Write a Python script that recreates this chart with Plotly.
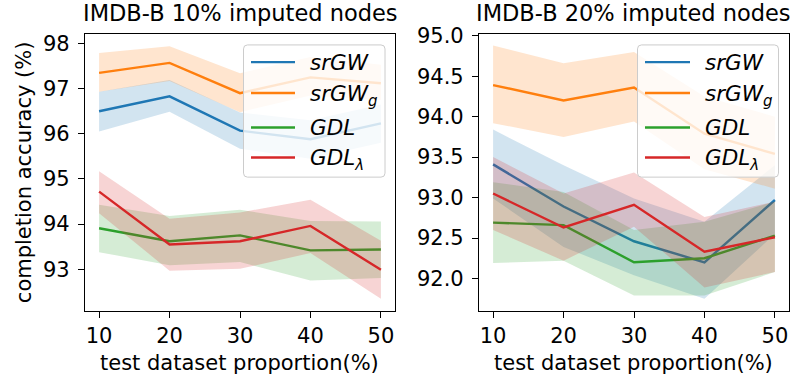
import plotly.graph_objects as go

# test dataset proportion (%)
proportions = [10, 20, 30, 40, 50]

# IMDB-B, 10% imputed nodes: mean and band limits
srgw_10 = [96.50, 96.83, 96.07, 95.88, 96.23]
srgw_10_lo = [96.05, 96.49, 95.67, 95.45, 95.80]
srgw_10_hi = [96.93, 97.19, 96.47, 96.30, 96.65]
srgwg_10 = [97.35, 97.57, 96.90, 97.25, 97.12]
srgwg_10_lo = [96.93, 97.17, 96.48, 96.85, 96.75]
srgwg_10_hi = [97.79, 97.94, 97.34, 97.70, 97.53]
gdl_10 = [93.91, 93.62, 93.75, 93.42, 93.44]
gdl_10_lo = [93.38, 93.09, 93.16, 92.75, 92.81]
gdl_10_hi = [94.43, 94.18, 94.32, 94.07, 94.06]
gdll_10 = [94.72, 93.55, 93.62, 93.96, 92.99]
gdll_10_lo = [94.24, 92.97, 93.01, 93.36, 92.35]
gdll_10_hi = [95.17, 94.12, 94.26, 94.54, 93.63]

# IMDB-B, 20% imputed nodes: mean and band limits
srgw_20 = [93.41, 92.89, 92.46, 92.20, 92.97]
srgw_20_lo = [92.99, 92.39, 92.04, 91.75, 92.55]
srgw_20_hi = [93.84, 93.40, 92.99, 92.70, 93.40]
srgwg_20 = [94.39, 94.20, 94.36, 93.79, 93.54]
srgwg_20_lo = [93.92, 93.75, 93.94, 93.35, 93.11]
srgwg_20_hi = [94.88, 94.66, 94.80, 94.25, 94.00]
gdl_20 = [92.69, 92.66, 92.20, 92.25, 92.53]
gdl_20_lo = [92.19, 92.22, 91.79, 91.79, 92.08]
gdl_20_hi = [93.19, 93.07, 92.60, 92.70, 92.95]
gdll_20 = [93.05, 92.63, 92.91, 92.33, 92.51]
gdll_20_lo = [92.60, 92.22, 92.64, 91.89, 92.08]
gdll_20_hi = [93.50, 93.05, 93.31, 92.76, 92.95]

names = ["<i>srGW</i>", "<i>srGW<sub>g</sub></i>", "<i>GDL</i>", "<i>GDL<sub>λ</sub></i>"]
colors = ["#1f77b4", "#ff7f0e", "#2ca02c", "#d62728"]
fills = ["rgba(31,119,180,0.2)", "rgba(255,127,14,0.2)",
         "rgba(44,160,44,0.2)", "rgba(214,39,40,0.2)"]

panels = [
    ("x", "y",
     [(srgw_10, srgw_10_lo, srgw_10_hi), (srgwg_10, srgwg_10_lo, srgwg_10_hi),
      (gdl_10, gdl_10_lo, gdl_10_hi), (gdll_10, gdll_10_lo, gdll_10_hi)]),
    ("x2", "y2",
     [(srgw_20, srgw_20_lo, srgw_20_hi), (srgwg_20, srgwg_20_lo, srgwg_20_hi),
      (gdl_20, gdl_20_lo, gdl_20_hi), (gdll_20, gdll_20_lo, gdll_20_hi)]),
]

fig = go.Figure()
for xa, ya, series in panels:
    for i, (mean, lo, hi) in enumerate(series):
        fig.add_trace(go.Scatter(
            x=proportions + proportions[::-1], y=hi + lo[::-1],
            fill="toself", fillcolor=fills[i], line=dict(width=0),
            mode="lines", hoverinfo="skip", showlegend=False,
            xaxis=xa, yaxis=ya))
        fig.add_trace(go.Scatter(
            x=proportions, y=mean, mode="lines", name=names[i],
            line=dict(color=colors[i], width=2.4), showlegend=False,
            xaxis=xa, yaxis=ya))

W, H = 794, 383
FS = 21
font = dict(family="DejaVu Sans", size=FS, color="black")


def px(v):
    return v / W


def py(v):
    # vertical pixel position -> paper fraction
    v = (v - 7.5) / 0.976
    return 1 - v / H


axis_common = dict(showline=True, linecolor="black", linewidth=1.2, mirror=True,
                   ticks="outside", ticklen=6, tickwidth=1.2, tickcolor="black",
                   showgrid=False, zeroline=False, tickfont=font)

shapes = []
annotations = []


def rounded_box(x0, y0, x1, y1, r):
    """Rounded rectangle path in paper coordinates (inputs in pixels)."""
    pts = [
        f"M{px(x0 + r)},{py(y0)}",
        f"L{px(x1 - r)},{py(y0)}",
        f"Q{px(x1)},{py(y0)} {px(x1)},{py(y0 + r)}",
        f"L{px(x1)},{py(y1 - r)}",
        f"Q{px(x1)},{py(y1)} {px(x1 - r)},{py(y1)}",
        f"L{px(x0 + r)},{py(y1)}",
        f"Q{px(x0)},{py(y1)} {px(x0)},{py(y1 - r)}",
        f"L{px(x0)},{py(y0 + r)}",
        f"Q{px(x0)},{py(y0)} {px(x0 + r)},{py(y0)}",
        "Z",
    ]
    return " ".join(pts)


def add_legend(x0, y0, x1, y1, line_x0, line_x1, text_x, rows):
    shapes.append(dict(type="path", path=rounded_box(x0, y0, x1, y1, 4),
                       xref="paper", yref="paper", layer="above",
                       fillcolor="rgba(255,255,255,0.8)",
                       line=dict(color="#cccccc", width=1)))
    for i, yy in enumerate(rows):
        shapes.append(dict(type="line", xref="paper", yref="paper", layer="above",
                           x0=px(line_x0), x1=px(line_x1), y0=py(yy), y1=py(yy),
                           line=dict(color=colors[i], width=2.4)))
        annotations.append(dict(text=names[i], x=px(text_x),
                                y=py(yy + (2 if "sub" in names[i] else 0)),
                                xref="paper", yref="paper", showarrow=False,
                                xanchor="left", yanchor="middle",
                                font=dict(family="DejaVu Sans", size=21.5, color="black")))


legend_rows = [59.7, 90.7, 125.3, 155.3]
add_legend(243.5, 42.5, 385, 175, 251, 295, 308, legend_rows)
add_legend(637.5, 42.5, 778.5, 175, 645, 690, 703, legend_rows)

annotations += [
    dict(text="IMDB-B 10% imputed nodes", x=px(240), y=py(11), xref="paper",
         yref="paper", showarrow=False, xanchor="center", yanchor="middle",
         font=dict(family="DejaVu Sans", size=22.5, color="black")),
    dict(text="IMDB-B 20% imputed nodes", x=px(633), y=py(11), xref="paper",
         yref="paper", showarrow=False, xanchor="center", yanchor="middle",
         font=dict(family="DejaVu Sans", size=22.5, color="black")),
    dict(text="test dataset proportion(%)", x=px(239), y=py(361), xref="paper",
         yref="paper", showarrow=False, xanchor="center", yanchor="middle",
         font=font),
    dict(text="test dataset proportion(%)", x=px(633), y=py(361), xref="paper",
         yref="paper", showarrow=False, xanchor="center", yanchor="middle",
         font=font),
    dict(text="completion accuracy (%)", x=px(24), y=py(170), xref="paper",
         yref="paper", showarrow=False, xanchor="center", yanchor="middle",
         textangle=-90, font=font),
]

fig.update_layout(
    width=W, height=H, margin=dict(l=0, r=0, t=0, b=0),
    paper_bgcolor="white", plot_bgcolor="white", font=font, showlegend=False,
    xaxis=dict(domain=[px(85), px(395)], range=[8, 52], tickvals=proportions,
               anchor="y", **axis_common),
    yaxis=dict(domain=[py(309), py(32)], range=[92.08, 98.2],
               tickvals=[93, 94, 95, 96, 97, 98], anchor="x",
               ticklabelstandoff=4, **axis_common),
    xaxis2=dict(domain=[px(479), px(789)], range=[8, 52], tickvals=proportions,
                anchor="y2", **axis_common),
    yaxis2=dict(domain=[py(309), py(32)], range=[91.6, 95.016],
                tickvals=[92.0, 92.5, 93.0, 93.5, 94.0, 94.5, 95.0],
                tickformat=".1f", anchor="x2", ticklabelstandoff=4, **axis_common),
    shapes=shapes,
    annotations=annotations,
)

fig.write_html("out.html")
